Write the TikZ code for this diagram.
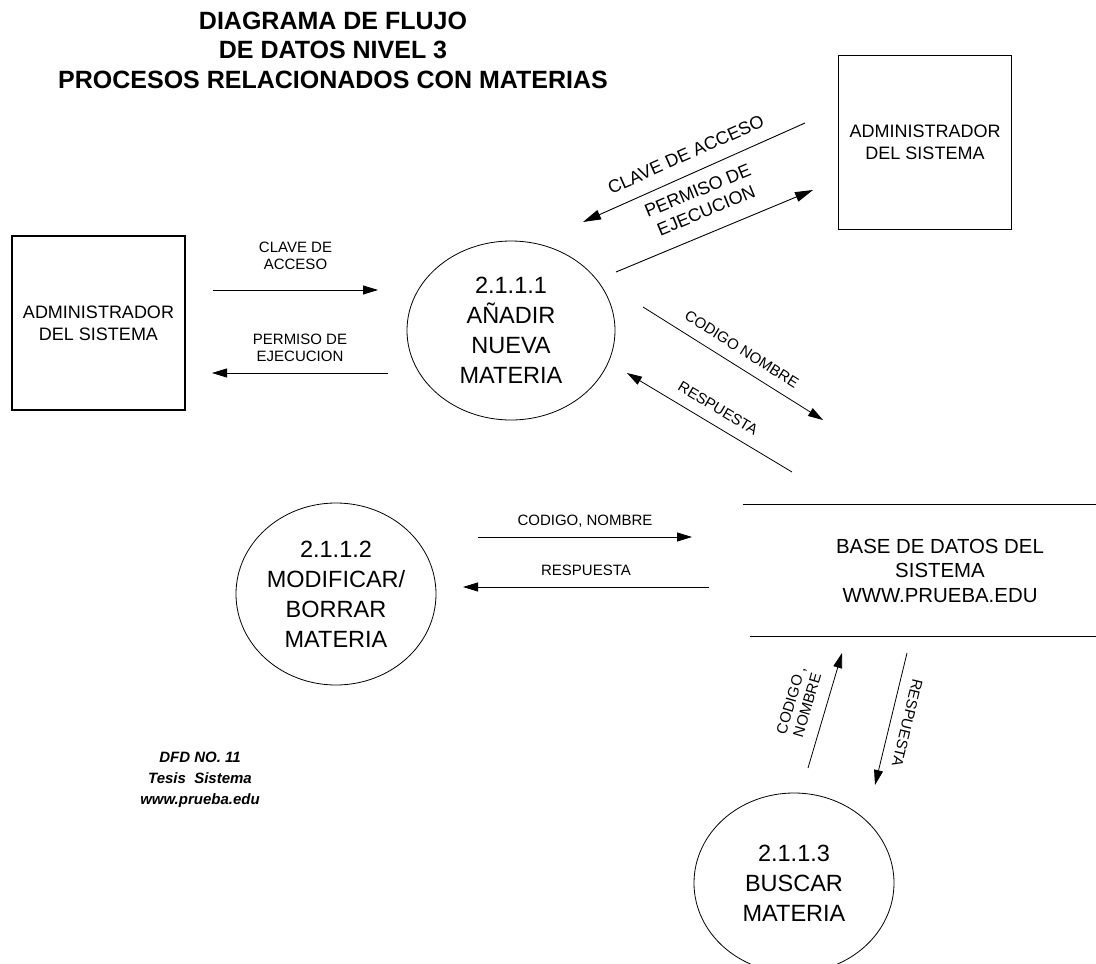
\documentclass[tikz,border=0pt]{standalone}
\usepackage{fontspec}
\setmainfont{Liberation Sans}
\usetikzlibrary{arrows.meta,positioning,shapes.geometric}

\begin{document}
\begin{tikzpicture}[x=1pt,y=-1pt]
\tikzstyle{entidad} = [draw, line width=1.1pt, minimum width=173pt, minimum height=174pt, inner sep=0pt, align=center, font=\fontsize{18}{22}\selectfont]
\tikzstyle{proceso} = [draw, ellipse, line width=0.8pt, inner sep=0pt, align=center, font=\fontsize{23.5}{30}\selectfont]
\tikzstyle{almacen} = [minimum width=312pt, minimum height=131pt, inner sep=0pt, align=center, font=\fontsize{20.4}{24.5}\selectfont]
\tikzstyle{flujo} = [-{Triangle[length=15pt,width=9pt]}, line width=0.8pt]
\tikzstyle{flujog} = [-{Triangle[length=18pt,width=10pt]}, line width=0.9pt]
\tikzstyle{etiq} = [font=\fontsize{15}{17}\selectfont, align=center, inner sep=0pt]
\tikzstyle{etiqg} = [font=\fontsize{18}{22}\selectfont, align=center, inner sep=0pt]

\useasboundingbox (0,0) rectangle (1096,964);

% titulo
\node [align=center, font=\bfseries\fontsize{25}{29.5}\selectfont] (titulo) at (333,50) {DIAGRAMA DE FLUJO\\DE DATOS NIVEL 3\\PROCESOS RELACIONADOS CON MATERIAS};

% entidades externas
\node [entidad] (admin1) at (98.5,323) {ADMINISTRADOR\\DEL SISTEMA};
\node [entidad] (admin2) at (925,142.5) {ADMINISTRADOR\\DEL SISTEMA};

% procesos
\node [proceso, minimum width=208pt, minimum height=179pt] (anadir) at (511,330.5) {2.1.1.1\\AÑADIR\\NUEVA\\MATERIA};
\node [proceso, minimum width=200pt, minimum height=182pt] (modificar) at (336,594) {2.1.1.2\\MODIFICAR/\\BORRAR\\MATERIA};
\node [proceso, minimum width=200pt, minimum height=180pt] (buscar) at (794,883) {2.1.1.3\\BUSCAR\\MATERIA};

% almacen de datos
\node [almacen] (bd) at (940,570.5) {BASE DE DATOS DEL\\SISTEMA\\WWW.PRUEBA.EDU};
\draw [line width=0.8pt] ([xshift=-41pt]bd.north west) -- (bd.north east);
\draw [line width=0.8pt] ([xshift=-34pt]bd.south west) -- (bd.south east);

% extremos de los flujos
\coordinate (clave1a) at (213,290);
\coordinate (clave1b) at (378,290);
\coordinate (perm1a) at (388,373);
\coordinate (perm1b) at (212,373);
\coordinate (clave2a) at (805,123);
\coordinate (clave2b) at (583,222);
\coordinate (perm2a) at (616,272);
\coordinate (perm2b) at (813,190);
\coordinate (cod1a) at (643,307);
\coordinate (cod1b) at (823,420);
\coordinate (resp1a) at (792,472);
\coordinate (resp1b) at (627,373);
\coordinate (cod2a) at (478,537);
\coordinate (cod2b) at (692,537);
\coordinate (resp2a) at (709,587);
\coordinate (resp2b) at (463,587);
\coordinate (cod3a) at (808,768);
\coordinate (cod3b) at (842,653);
\coordinate (resp3a) at (907,653);
\coordinate (resp3b) at (875,785);

% flujos
\draw [flujo] (clave1a) -- node [etiq, above=20pt] {CLAVE DE\\ACCESO} (clave1b);
\draw [flujo] (perm1a) -- node [etiq, above=11pt] {PERMISO DE\\EJECUCION} (perm1b);
\draw [flujog] (clave2a) -- node [etiqg, sloped, above=13pt] {CLAVE DE ACCESO} (clave2b);
\draw [flujog] (perm2a) -- node [etiqg, sloped, above=15pt] {PERMISO DE\\EJECUCION} (perm2b);
\draw [flujo] (cod1a) -- node [etiq, sloped, above=11pt] {CODIGO NOMBRE} (cod1b);
\draw [flujo] (resp1a) -- node [etiq, sloped, above=11pt] {RESPUESTA} (resp1b);
\draw [flujo] (cod2a) -- node [etiq, above=9pt] {CODIGO, NOMBRE} (cod2b);
\draw [flujo] (resp2a) -- node [etiq, above=11pt] {RESPUESTA} (resp2b);
\draw [flujo] (cod3a) -- node [etiq, sloped, above=13pt] {CODIGO ,\\NOMBRE} (cod3b);
\draw [flujo] (resp3a) -- node [etiq, sloped, allow upside down, above=11pt] {RESPUESTA} (resp3b);

% pie
\node [align=center, font=\bfseries\itshape\fontsize{15}{21}\selectfont] (pie) at (200,780) {DFD NO. 11\\Tesis\ \ Sistema\\www.prueba.edu};

\end{tikzpicture}
\end{document}
